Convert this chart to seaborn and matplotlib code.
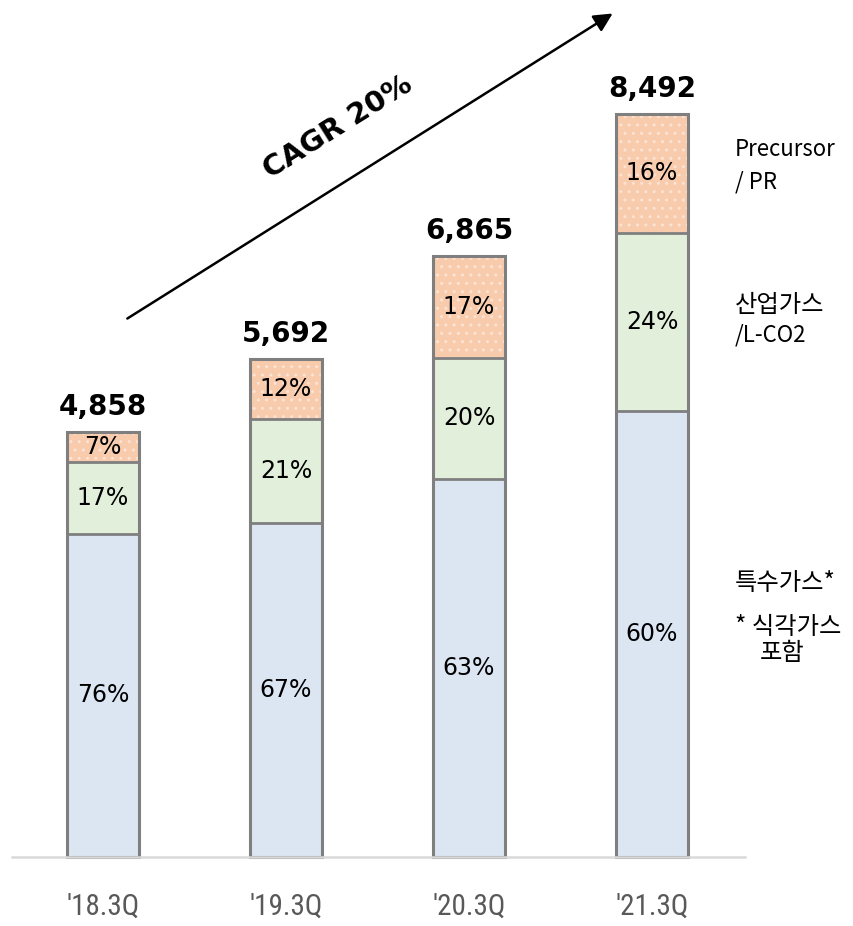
import numpy as np
import pandas as pd
import seaborn as sns
import matplotlib.pyplot as plt
from matplotlib import font_manager

quarters = ["'18.3Q", "'19.3Q", "'20.3Q", "'21.3Q"]
totals = [4858, 5692, 6865, 8492]
pct_special = [76, 67, 63, 60]     # 특수가스
pct_industrial = [17, 21, 20, 24]  # 산업가스 / L-CO2
pct_precursor = [7, 12, 17, 16]    # Precursor / PR
cagr_label = 'CAGR 20%'

C_BLUE = '#DCE6F2'
C_GREEN = '#E2EFDA'
C_ORANGE = '#F8CBAD'
C_EDGE = '#7F7F7F'

sns.set_theme(style='white')
plt.rcParams['font.family'] = ['DejaVu Sans']
plt.rcParams['text.color'] = 'black'
kr_font = ['Noto Sans CJK KR', 'DejaVu Sans']
names = {f.name for f in font_manager.fontManager.ttflist}
tick_font = 'DejaVu Sans'
for cand in ['Roboto Condensed', 'Liberation Sans Narrow', 'DejaVu Sans Condensed']:
    if cand in names:
        tick_font = cand
        break

df = pd.DataFrame({'quarter': quarters, 'total': totals,
                   'special': pct_special, 'industrial': pct_industrial,
                   'precursor': pct_precursor})
df['h_special'] = df['total'] * df['special'] / 100
df['h_ind_cum'] = df['h_special'] + df['total'] * df['industrial'] / 100

W, H = 854, 926
fig = plt.figure(figsize=(W / 100, H / 100), dpi=100)
ax = fig.add_axes([12 / W, 69 / H, 733 / W, 857 / H])

bw = 0.395
# stacked by overdrawing: total (precursor on top), then blue+green, then blue
sns.barplot(ax=ax, data=df, x='quarter', y='total', color=C_ORANGE, saturation=1,
            width=bw, edgecolor='#FCE3D4', linewidth=0, hatch='..', errorbar=None)
sns.barplot(ax=ax, data=df, x='quarter', y='h_ind_cum', color=C_GREEN, saturation=1,
            width=bw, edgecolor=C_EDGE, linewidth=2, errorbar=None)
sns.barplot(ax=ax, data=df, x='quarter', y='h_special', color=C_BLUE, saturation=1,
            width=bw, edgecolor=C_EDGE, linewidth=2, errorbar=None)
sns.barplot(ax=ax, data=df, x='quarter', y='total', fill=False, saturation=1,
            width=bw, edgecolor=C_EDGE, linewidth=2.2, errorbar=None)
for p in ax.patches:
    p.set_clip_on(False)

ax.set_xlim(-0.497, 3.508)
ax.set_ylim(0, 857 / 0.0875)

for i, row in df.iterrows():
    ax.text(i, row['h_special'] / 2, f"{row['special']}%", ha='center', va='center', fontsize=17)
    ax.text(i, (row['h_special'] + row['h_ind_cum']) / 2, f"{row['industrial']}%",
            ha='center', va='center', fontsize=17)
    ax.text(i, (row['h_ind_cum'] + row['total']) / 2, f"{row['precursor']}%",
            ha='center', va='center', fontsize=17)
    ax.annotate(f"{row['total']:,}", (i, row['total']), xytext=(0, 8), textcoords='offset points',
                ha='center', va='bottom', fontsize=20, fontweight='bold', annotation_clip=False)

sns.despine(ax=ax, left=True, top=True, right=True)
ax.spines['bottom'].set_color('#D9D9D9')
ax.spines['bottom'].set_linewidth(1.8)
ax.set_yticks([])
ax.set_xlabel('')
ax.set_ylabel('')
ax.tick_params(axis='x', length=0, pad=26, colors='#595959')
for lab in ax.get_xticklabels():
    lab.set_fontfamily(tick_font)
    lab.set_fontsize(21)
ax.patch.set_alpha(0)

# CAGR arrow
ax.annotate('', xy=(615, H - 12), xytext=(125, H - 320), xycoords='figure pixels',
            textcoords='figure pixels',
            arrowprops=dict(arrowstyle='-|>', lw=1.8, color='black', mutation_scale=28))
fig.text(338 / W, (H - 127) / H, cagr_label, rotation=32, ha='center', va='center',
         fontsize=21, fontweight='bold', rotation_mode='anchor')

# segment legend on the right
side = [("Precursor", 150, 16), ("/ PR", 182, 16), ("산업가스", 305, 17.5), ("/L-CO2", 335, 16),
        ("특수가스*", 583, 17.5), ("* 식각가스", 627, 17.5)]
for txt, y, fs in side:
    fig.text(735 / W, (H - y) / H, txt, ha='left', va='center', fontsize=fs, family=kr_font)
fig.text(760 / W, (H - 653) / H, "포함", ha='left', va='center', fontsize=17.5, family=kr_font)

fig.savefig('out.png', dpi=100)
